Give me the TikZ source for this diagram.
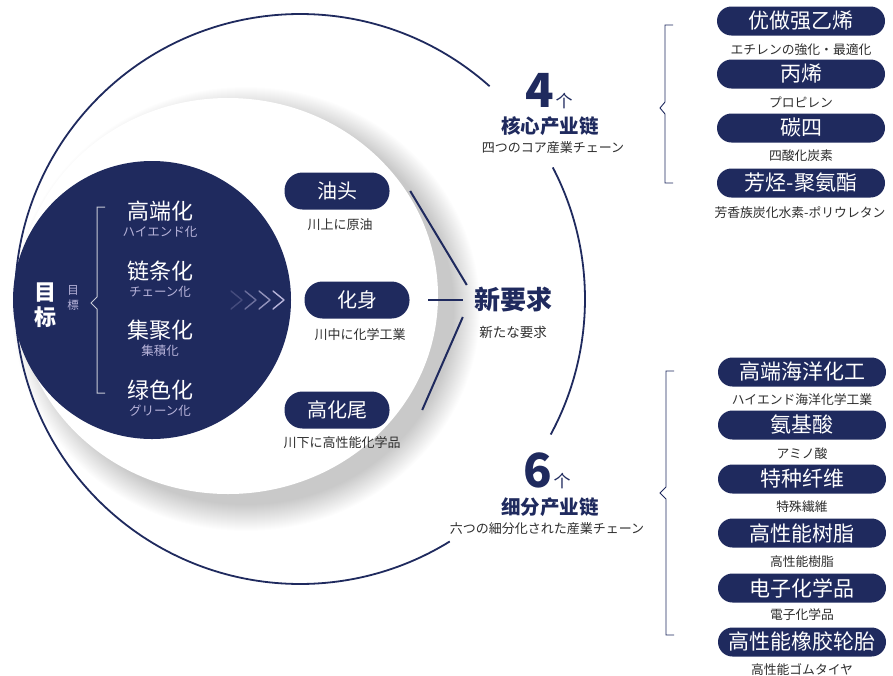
\documentclass[tikz,border=0pt]{standalone}
\usepackage{fontspec}
\newfontfamily\cjk{Noto Sans CJK SC}
\newfontfamily\jpn{Noto Sans CJK JP}
\usetikzlibrary{positioning}
\definecolor{navy}{HTML}{1F2A5E}
\definecolor{lilac}{HTML}{B8B4DA}
\definecolor{subgray}{HTML}{2E2E2E}
\tikzset{
  pill/.style={fill=navy, text=white, rounded corners=14.5pt, minimum height=29pt,
    minimum width=168pt, inner sep=0pt, font=\cjk\fontsize{21}{21}\selectfont},
  midpill/.style={pill, rounded corners=18pt, minimum height=37pt, minimum width=105pt,
    font=\cjk\fontsize{20}{20}\selectfont},
  sub/.style={text=subgray, inner sep=0pt, font=\jpn\fontsize{12.8}{12.8}\selectfont},
  goal/.style={text=white, inner sep=0pt, font=\cjk\fontsize{22}{22}\selectfont},
  goalsub/.style={text=lilac, inner sep=0pt, font=\jpn\fontsize{12.5}{12.5}\selectfont},
  count/.style={text=navy, inner sep=0pt, font=\cjk\bfseries\fontsize{47}{47}\selectfont},
  chain/.style={text=navy, inner sep=0pt, font=\cjk\bfseries\fontsize{19.5}{19.5}\selectfont},
  link/.style={navy, line width=2pt},
  chev/.style={line width=1.4pt, line cap=round, line join=round},
}
\begin{document}
\begin{tikzpicture}[x=1pt, y=-1pt]
  \useasboundingbox[fill=white] (0,0) rectangle (893,675);
  % white disk with soft shadow
  \foreach \i in {0,...,26}
    \fill[black, opacity=0.008] (246,309) ellipse [x radius=208+\i, y radius=196+\i];
  \fill[white] (228,296) ellipse [x radius=210, y radius=198];
  % outer ring, broken on the right
  \draw[navy, line width=1.8pt] (300,299) ++(-48.3:285) arc[start angle=-48.3, end angle=-301.7, radius=285];
  \draw[navy, line width=1.8pt] (300,299) ++(-27.5:285) arc[start angle=-27.5, end angle=28.4, radius=285];
  % goal disk
  \fill[navy] (152,300) circle[radius=139];
  \node[goal, font=\cjk\bfseries\fontsize{22}{25}\selectfont, align=center] (mubiao) at (45,305) {目\\标};
  \node[goalsub, font=\jpn\fontsize{11.5}{15}\selectfont, align=center] (mubiaojp) at (73,298) {目\\標};
  \draw[white!75!navy, line width=1pt] (105,207) -- (97,207) -- (97,297) -- (91,303) -- (97,309) -- (97,393) -- (105,393);
  \node[goal] (gaoduan) at (160,211) {高端化};
  \node[goalsub] (gaoduanjp) at (160,232) {ハイエンド化};
  \node[goal] (liantiao) at (160,271) {链条化};
  \node[goalsub] (liantiaojp) at (160,292) {チェーン化};
  \node[goal] (jiju) at (160,330) {集聚化};
  \node[goalsub] (jijujp) at (160,351) {集積化};
  \node[goal] (lvse) at (160,390) {绿色化};
  \node[goalsub] (lvsejp) at (160,411) {グリーン化};
  \draw[chev, lilac!25!navy] (231,291) -- (242,300) -- (231,309);
  \draw[chev, lilac!50!navy] (245,291) -- (256,300) -- (245,309);
  \draw[chev, lilac!75!navy] (259,291) -- (270,300) -- (259,309);
  \draw[chev, lilac] (273,291) -- (284,300) -- (273,309);
  % three stages
  \node[midpill] (youtou) at (337,191) {油头};
  \node[sub, font=\jpn\fontsize{13}{13}\selectfont] (youtoujp) at (340,225) {川上に原油};
  \node[midpill] (huashen) at (357,300) {化身};
  \node[sub, font=\jpn\fontsize{13}{13}\selectfont] (huashenjp) at (360,335) {川中に化学工業};
  \node[midpill] (gaohuawei) at (337,410) {高化尾};
  \node[sub, font=\jpn\fontsize{13}{13}\selectfont] (gaohuaweijp) at (342,443) {川下に高性能化学品};
  % new demand
  \node[text=navy, inner sep=0pt, font=\cjk\bfseries\fontsize{26}{26}\selectfont] (xin) at (513,300) {新要求};
  \node[sub, font=\jpn\fontsize{13.5}{13.5}\selectfont] (xinjp) at (513,332) {新たな要求};
  \draw[link] ([xshift=20.5pt]youtou.east) -- ([shift={(-7pt,15pt)}]xin.west);
  \draw[link] ([xshift=18.5pt]huashen.east) -- ([xshift=-11pt]xin.west);
  \draw[link] ([xshift=32.5pt]gaohuawei.east) -- ([shift={(-11pt,-17pt)}]xin.west);
  % four core chains
  \node[count] (four) at (540,90) {4};
  \node[text=navy, inner sep=1pt, anchor=base west, font=\cjk\fontsize{17}{17}\selectfont] (fourge) at (four.base east) {个};
  \node[chain] (hexin) at (550,126) {核心产业链};
  \node[sub, font=\jpn\fontsize{13}{13}\selectfont] (hexinjp) at (553,148) {四つのコア産業チェーン};
  \draw[navy, line width=0.9pt] (673,25) -- (665,25) -- (665,102) -- (660,108) -- (665,114) -- (665,183) -- (673,183);
  \node[pill] (yixi) at (801,21) {优做强乙烯};
  \node[sub] (yixijp) at (801,50) {エチレンの強化・最適化};
  \node[pill] (bingxi) at (801,74) {丙烯};
  \node[sub] (bingxijp) at (801,102) {プロピレン};
  \node[pill] (tansi) at (801,128) {碳四};
  \node[sub] (tansijp) at (801,156) {四酸化炭素};
  \node[pill] (fangting) at (801,183) {芳烃-聚氨酯};
  \node[sub] (fangtingjp) at (800,213) {芳香族炭化水素-ポリウレタン};
  % six sub chains
  \node[count] (six) at (538,470) {6};
  \node[text=navy, inner sep=1pt, anchor=base west, font=\cjk\fontsize{17}{17}\selectfont] (sixge) at (six.base east) {个};
  \node[chain] (xifen) at (550,507) {细分产业链};
  \node[sub, font=\jpn\fontsize{13}{13}\selectfont] (xifenjp) at (547,529) {六つの細分化された産業チェーン};
  \draw[navy, line width=0.9pt] (674,371) -- (666,371) -- (666,487) -- (660,493) -- (666,499) -- (666,635) -- (674,635);
  \node[pill] (haiyang) at (802,372) {高端海洋化工};
  \node[sub] (haiyangjp) at (802,400) {ハイエンド海洋化学工業};
  \node[pill] (anjisuan) at (802,425) {氨基酸};
  \node[sub] (anjisuanjp) at (802,454) {アミノ酸};
  \node[pill] (xianwei) at (802,479) {特种纤维};
  \node[sub] (xianweijp) at (802,507) {特殊繊維};
  \node[pill] (shuzhi) at (802,533) {高性能树脂};
  \node[sub] (shuzhijp) at (802,562) {高性能樹脂};
  \node[pill] (dianzi) at (802,588) {电子化学品};
  \node[sub] (dianzijp) at (802,615) {電子化学品};
  \node[pill] (luntai) at (802,642) {高性能橡胶轮胎};
  \node[sub] (luntaijp) at (802,670) {高性能ゴムタイヤ};
\end{tikzpicture}
\end{document}
